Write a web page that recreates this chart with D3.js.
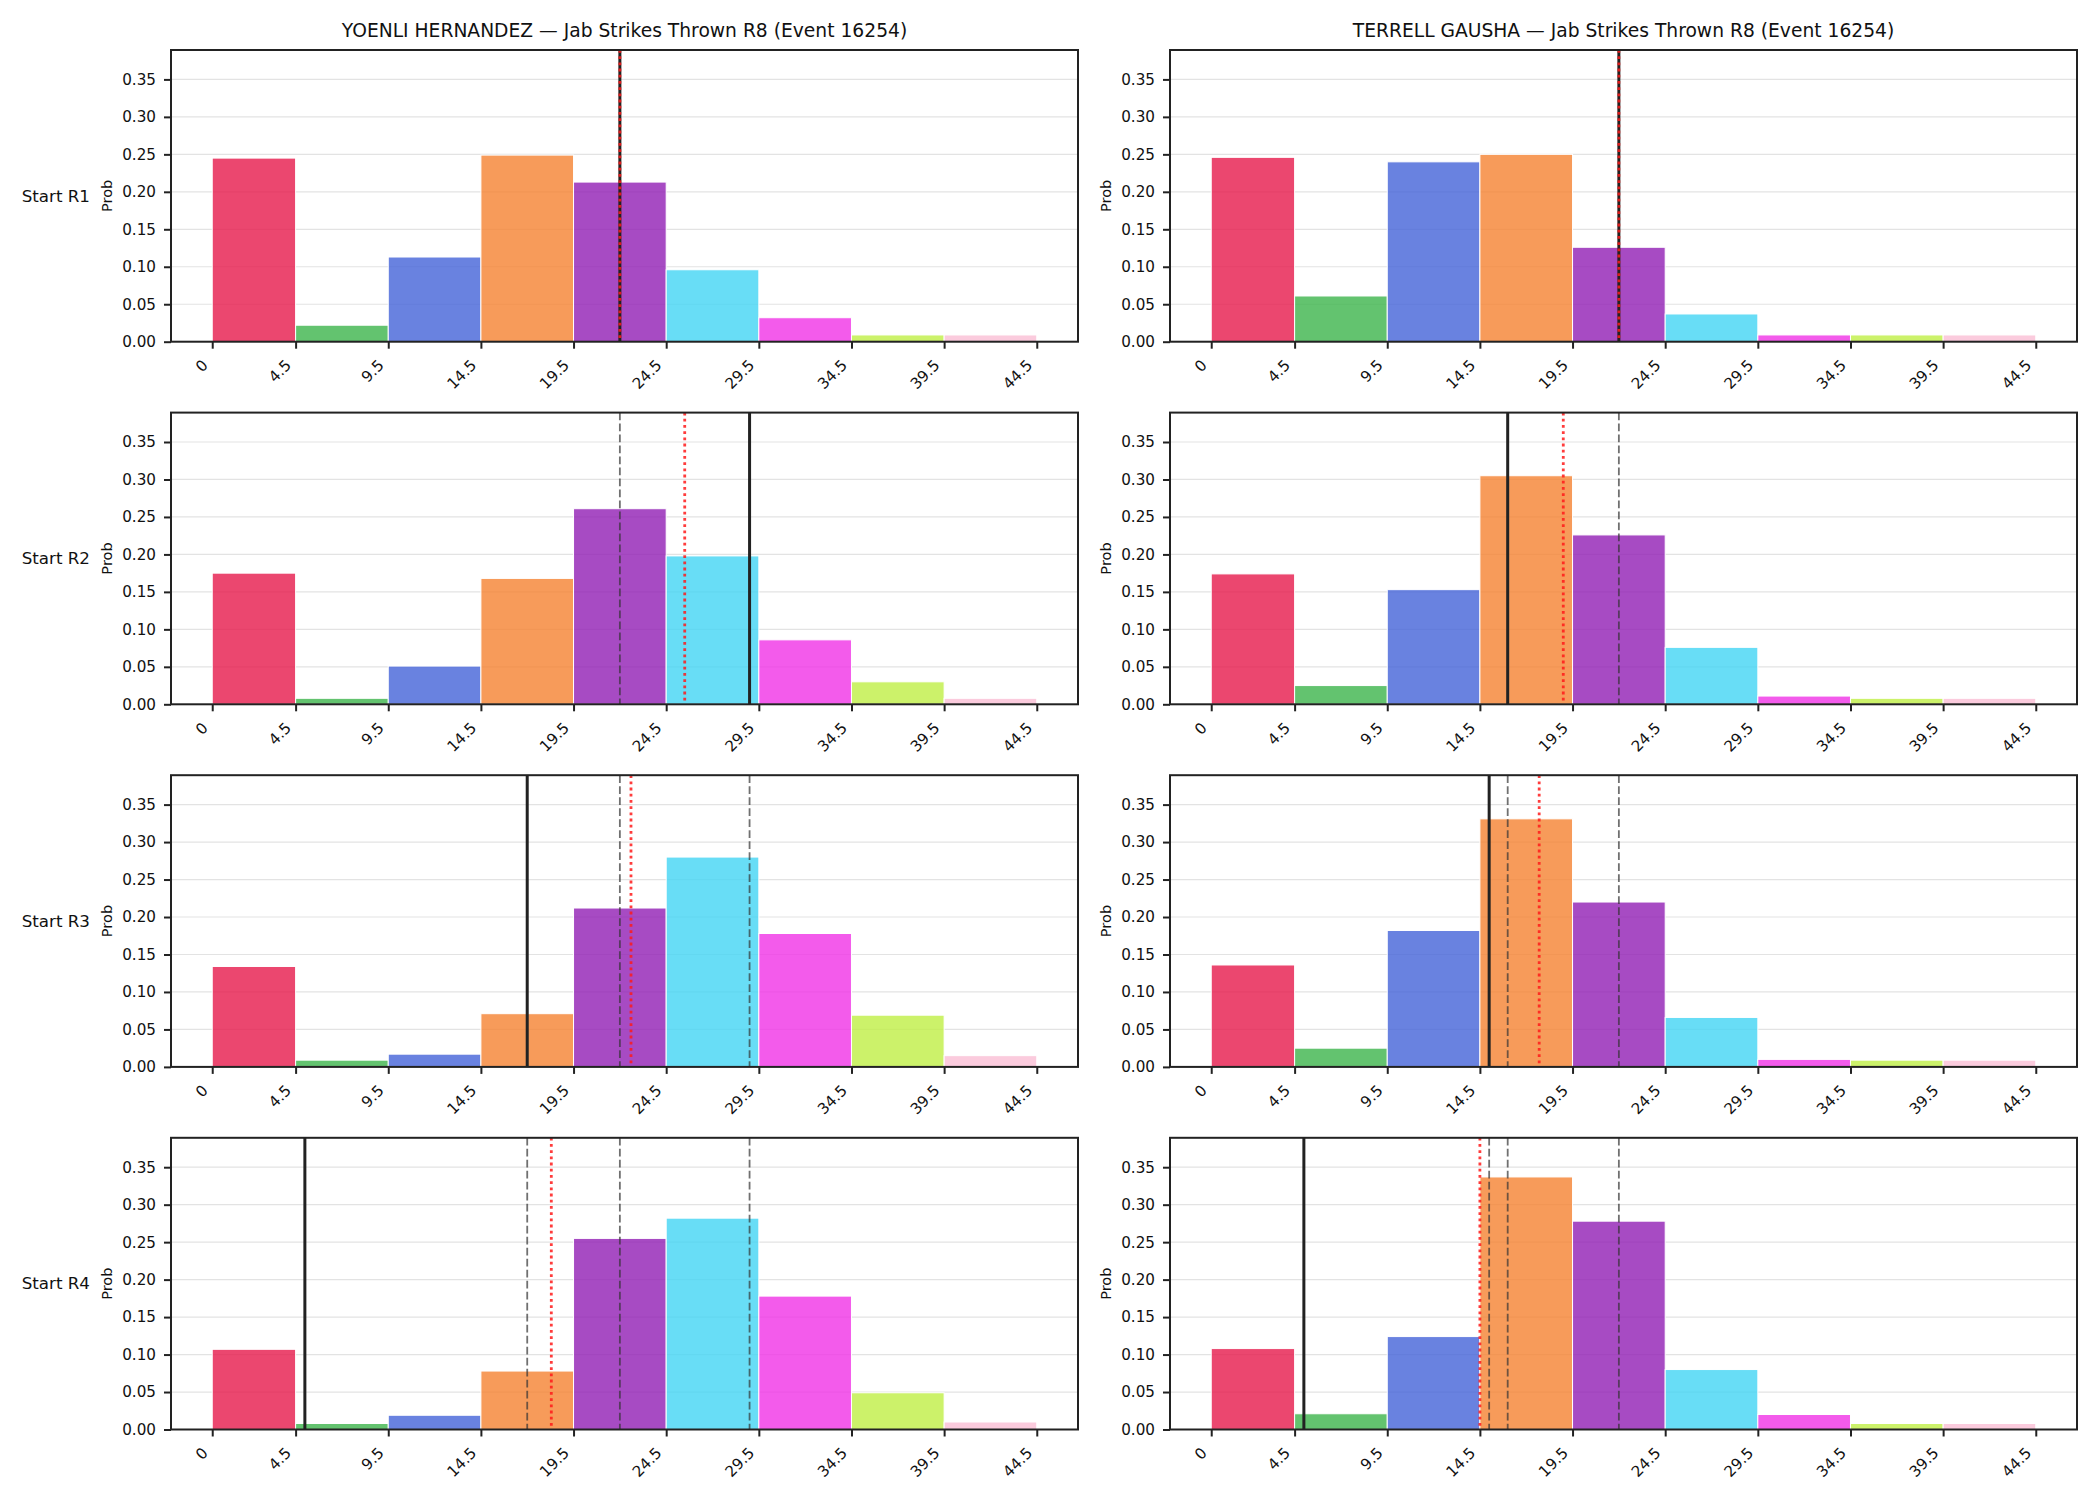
<!DOCTYPE html>
<html>
<head>
<meta charset="utf-8">
<script src="https://cdn.jsdelivr.net/npm/d3@7"></script>
<style>
  body { margin: 0; background: #fff; }
  svg { display: block; font-family: "DejaVu Sans", sans-serif; }
</style>
</head>
<body>
<svg id="chart"></svg>
<script>
// bins + labels
const binEdges = [0, 4.5, 9.5, 14.5, 19.5, 24.5, 29.5, 34.5, 39.5, 44.5];
const tickLabels = ["0", "4.5", "9.5", "14.5", "19.5", "24.5", "29.5", "34.5", "39.5", "44.5"];
const yTicks = [0, 0.05, 0.10, 0.15, 0.20, 0.25, 0.30, 0.35];
const rowLabels = ["Start R1", "Start R2", "Start R3", "Start R4"];
const fighters = ["YOENLI HERNANDEZ", "TERRELL GAUSHA"];
const binColors = ["#e6194b", "#3cb44b", "#4363d8", "#f58231", "#911eb4",
                   "#42d4f4", "#f032e6", "#bfef45", "#fabed4"];

// probabilities per bin, one row per starting round
const hernandezProbs = [
  [0.245, 0.022, 0.113, 0.249, 0.213, 0.096, 0.032, 0.009, 0.009],
  [0.175, 0.008, 0.051, 0.168, 0.261, 0.198, 0.086, 0.030, 0.008],
  [0.134, 0.009, 0.017, 0.071, 0.212, 0.280, 0.178, 0.069, 0.015],
  [0.107, 0.008, 0.019, 0.078, 0.255, 0.282, 0.178, 0.049, 0.010]
];
const gaushaProbs = [
  [0.246, 0.061, 0.240, 0.250, 0.126, 0.037, 0.009, 0.009, 0.009],
  [0.174, 0.025, 0.153, 0.305, 0.226, 0.076, 0.011, 0.008, 0.008],
  [0.136, 0.025, 0.182, 0.331, 0.220, 0.066, 0.010, 0.009, 0.009],
  [0.108, 0.021, 0.124, 0.337, 0.278, 0.080, 0.020, 0.008, 0.008]
];

// reference lines
const hernandezSolid = [22, 29, 17, 5];
const hernandezDashed = [[], [22], [22, 29], [17, 22, 29]];
const hernandezDotted = [22, 25.5, 22.6, 18.3];
const gaushaSolid = [22, 16, 15, 5];
const gaushaDashed = [[], [22], [16, 22], [15, 16, 22]];
const gaushaDotted = [22, 19, 17.7, 14.5];

const panels = [
  {name: fighters[0], probs: hernandezProbs, solid: hernandezSolid, dashed: hernandezDashed, dotted: hernandezDotted},
  {name: fighters[1], probs: gaushaProbs, solid: gaushaSolid, dashed: gaushaDashed, dotted: gaushaDotted}
];

const width = 2100, height = 1500;
const colLeft = [171, 1170];
const axW = 907, axH = 291.7;
const rowTop0 = 50, rowStep = 362.6;

const svg = d3.select("#chart")
  .attr("width", width).attr("height", height)
  .attr("viewBox", [0, 0, width, height]);

const allMax = d3.max([...hernandezProbs, ...gaushaProbs].flat());

const x = d3.scaleLinear()
  .domain([-2.225, 46.725])
  .range([0, axW]);

const y = d3.scaleLinear()
  .domain([0, allMax * 1.155])
  .range([axH, 0]);

panels.forEach((p, c) => {
  p.probs.forEach((probs, r) => {
    const g = svg.append("g")
      .attr("transform", `translate(${colLeft[c]},${rowTop0 + r * rowStep})`);

    // grid
    g.append("g")
      .selectAll("line")
      .data(yTicks)
      .join("line")
      .attr("x1", 0).attr("x2", axW)
      .attr("y1", d => y(d)).attr("y2", d => y(d))
      .attr("stroke", "#e3e3e3")
      .attr("stroke-width", 1.2);

    // bars
    const bins = probs.map((v, i) => ({x0: binEdges[i], x1: binEdges[i + 1], v, i}));
    g.append("g")
      .selectAll("rect")
      .data(bins)
      .join("rect")
      .attr("x", d => x(d.x0))
      .attr("width", d => x(d.x1) - x(d.x0))
      .attr("y", d => y(d.v))
      .attr("height", d => y(0) - y(d.v))
      .attr("fill", d => binColors[d.i])
      .attr("fill-opacity", 0.8)
      .attr("stroke", "#fff")
      .attr("stroke-width", 1);

    // dashed lines (earlier rounds)
    g.append("g")
      .selectAll("line")
      .data(p.dashed[r])
      .join("line")
      .attr("x1", d => x(d)).attr("x2", d => x(d))
      .attr("y1", 0).attr("y2", axH)
      .attr("stroke", "#333")
      .attr("stroke-opacity", 0.7)
      .attr("stroke-width", 1.8)
      .attr("stroke-dasharray", "7.7,3.3");

    // solid line
    g.append("line")
      .attr("x1", x(p.solid[r])).attr("x2", x(p.solid[r]))
      .attr("y1", 0).attr("y2", axH)
      .attr("stroke", "#222")
      .attr("stroke-width", 3);

    // dotted red
    g.append("line")
      .attr("x1", x(p.dotted[r])).attr("x2", x(p.dotted[r]))
      .attr("y1", 0).attr("y2", axH)
      .attr("stroke", "#ff1a1a")
      .attr("stroke-opacity", 0.85)
      .attr("stroke-width", 2.8)
      .attr("stroke-dasharray", "2.8,3.4");

    // y axis
    const yAxis = g.append("g")
      .call(d3.axisLeft(y).tickValues(yTicks).tickFormat(d3.format(".2f")).tickSize(7).tickPadding(8));
    yAxis.select(".domain").remove();
    yAxis.selectAll("line").attr("stroke", "#222").attr("stroke-width", 2);
    yAxis.selectAll("text").attr("font-size", 15.2).attr("fill", "#111")
      .attr("font-family", "DejaVu Sans");

    // x axis
    const xAxis = g.append("g")
      .attr("transform", `translate(0,${axH})`)
      .call(d3.axisBottom(x).tickValues(binEdges).tickFormat("").tickSize(7));
    xAxis.select(".domain").remove();
    xAxis.selectAll("line").attr("stroke", "#222").attr("stroke-width", 2);

    g.append("g")
      .selectAll("text")
      .data(binEdges)
      .join("text")
      .attr("transform", d => `translate(${x(d) - 3.5},${axH + 24.5}) rotate(-45)`)
      .attr("text-anchor", "end")
      .attr("font-size", 15.2)
      .attr("fill", "#111")
      .text((d, i) => tickLabels[i]);

    // frame
    g.append("rect")
      .attr("width", axW).attr("height", axH)
      .attr("fill", "none")
      .attr("stroke", "#222")
      .attr("stroke-width", 2);

    // labels
    g.append("text")
      .attr("transform", `translate(-59.3,${axH / 2}) rotate(-90)`)
      .attr("text-anchor", "middle")
      .attr("font-size", 14.6)
      .attr("fill", "#111")
      .text("Prob");

    if (c === 0) {
      g.append("text")
        .attr("x", 90 - colLeft[0])
        .attr("y", axH / 2)
        .attr("dy", "0.35em")
        .attr("text-anchor", "end")
        .attr("font-size", 16.7)
        .attr("fill", "#111")
        .text(rowLabels[r]);
    }

    if (r === 0) {
      g.append("text")
        .attr("x", axW / 2)
        .attr("y", -13)
        .attr("text-anchor", "middle")
        .attr("font-size", 18.7)
        .attr("fill", "#111")
        .text(`${p.name} — Jab Strikes Thrown R8 (Event 16254)`);
    }
  });
});
</script>
</body>
</html>
